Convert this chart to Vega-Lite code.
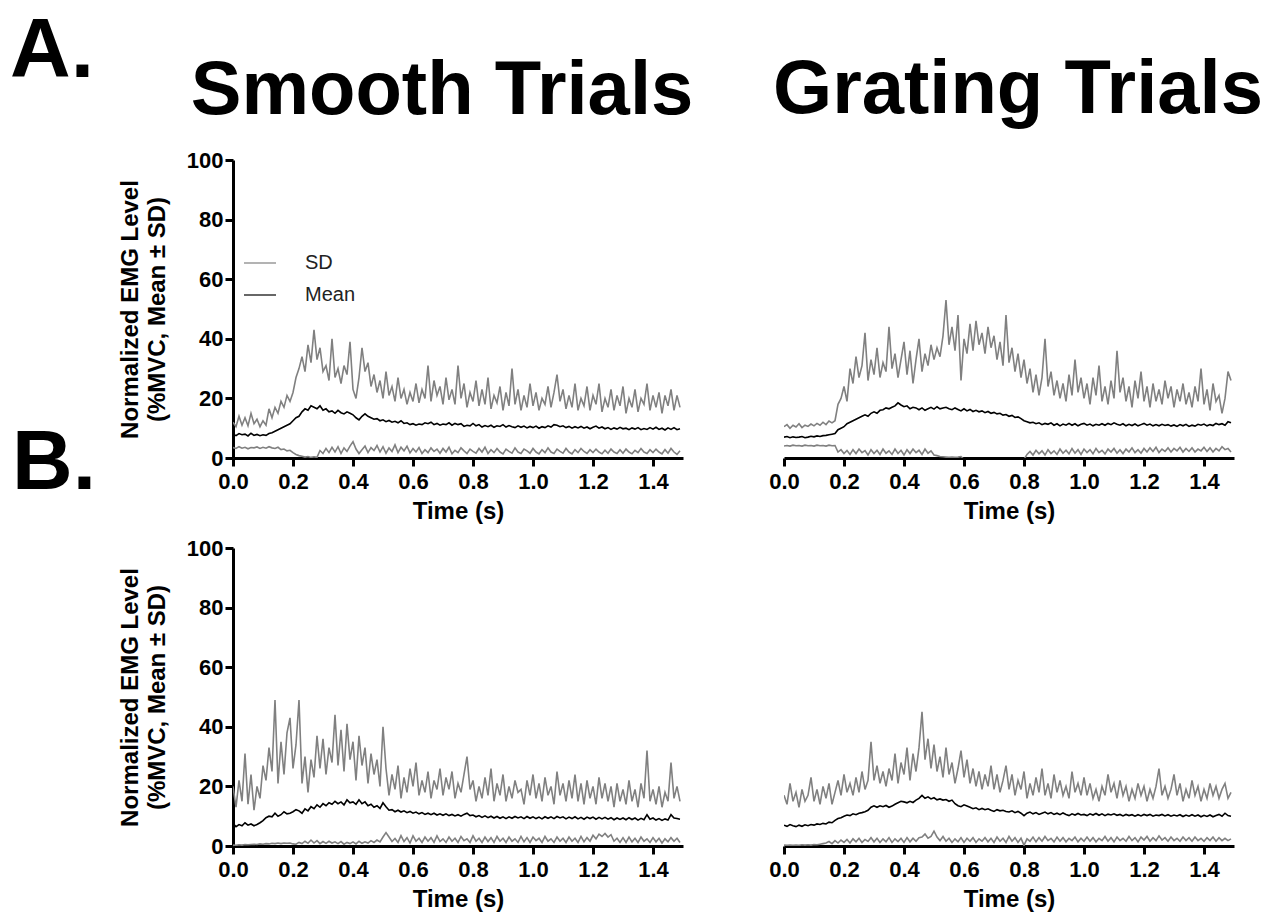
{
  "$schema": "https://vega.github.io/schema/vega-lite/v6.json",
  "padding": {"left": 10, "top": 10, "right": 5, "bottom": 5},
  "background": "white",
  "title": {"text": "A.", "anchor": "start", "frame": "group", "fontSize": 84, "fontWeight": "bold", "dx": -223, "dy": 43, "offset": 0},
  "columns": 2,
  "spacing": {"column": 101, "row": 90},
  "bounds": "flush",
  "resolve": {"scale": {"color": "independent"}, "legend": {"color": "independent"}},
  "config": {
    "font": "Liberation Sans",
    "view": {"stroke": null},
    "axis": {"domainColor": "black", "domainWidth": 3, "tickColor": "black", "tickWidth": 3, "tickSize": 8, "labelFont": "Liberation Sans", "labelFontWeight": "bold", "labelFontSize": 22, "labelColor": "black", "titleFont": "Liberation Sans", "titleFontSize": 24, "titleFontWeight": "bold", "titleColor": "black", "grid": false},
    "title": {"fontSize": 76, "fontWeight": "bold", "color": "black", "font": "Liberation Sans"}
  },
  "datasets": {
    "tl": [
{"t":0.00,"u":12,"m":8,"l":3.5},{"t":0.01,"u":10.5,"m":7.5,"l":3.2},{"t":0.02,"u":14,"m":8.2,"l":3.8},{"t":0.03,"u":11,"m":7.8,"l":3.3},{"t":0.04,"u":13.5,"m":8,"l":3.6},{"t":0.05,"u":10.8,"m":7.4,"l":3.1},{"t":0.06,"u":15,"m":8.3,"l":3.5},{"t":0.07,"u":11.5,"m":7.6,"l":3.4},{"t":0.08,"u":13,"m":7.9,"l":3.7},{"t":0.09,"u":10.5,"m":7.5,"l":3.2},
{"t":0.10,"u":12.5,"m":7.8,"l":3.6},{"t":0.11,"u":11,"m":7.6,"l":3.3},{"t":0.12,"u":16.5,"m":8.2,"l":3.8},{"t":0.13,"u":13.5,"m":8.5,"l":3.4},{"t":0.14,"u":17,"m":9,"l":3.2},{"t":0.15,"u":15,"m":9.5,"l":3.6},{"t":0.16,"u":19,"m":10,"l":2.8},{"t":0.17,"u":17,"m":10.5,"l":3},{"t":0.18,"u":21,"m":11,"l":2.4},{"t":0.19,"u":19,"m":11.5,"l":2.6},
{"t":0.20,"u":22,"m":12.5,"l":1.8},{"t":0.21,"u":27,"m":13.5,"l":1.2},{"t":0.22,"u":30,"m":14,"l":0.8},{"t":0.23,"u":34,"m":15.5,"l":0.6},{"t":0.24,"u":29,"m":16.5,"l":0.3},{"t":0.25,"u":38,"m":16,"l":0.5},{"t":0.26,"u":32,"m":17.5,"l":0.2},{"t":0.27,"u":43,"m":17,"l":0.4},{"t":0.28,"u":33,"m":16.5,"l":0.2},{"t":0.29,"u":37,"m":17.5,"l":2.5},
{"t":0.30,"u":29,"m":16,"l":1.5},{"t":0.31,"u":31,"m":16.5,"l":3.2},{"t":0.32,"u":26,"m":15.5,"l":1.8},{"t":0.33,"u":40,"m":15.8,"l":3.6},{"t":0.34,"u":27,"m":15,"l":2},{"t":0.35,"u":30,"m":16,"l":3.8},{"t":0.36,"u":25,"m":15.2,"l":1.5},{"t":0.37,"u":31,"m":14.8,"l":3.4},{"t":0.38,"u":28,"m":15.5,"l":2.2},{"t":0.39,"u":39,"m":15,"l":4},
{"t":0.40,"u":23,"m":14.5,"l":5.5},{"t":0.41,"u":20,"m":13.5,"l":3},{"t":0.42,"u":27,"m":12.8,"l":1.5},{"t":0.43,"u":37,"m":14,"l":2.8},{"t":0.44,"u":29,"m":14.8,"l":4},{"t":0.45,"u":32,"m":14,"l":1.8},{"t":0.46,"u":24,"m":13.5,"l":3.5},{"t":0.47,"u":28,"m":13,"l":2.5},{"t":0.48,"u":22,"m":13.2,"l":4.2},{"t":0.49,"u":26,"m":12.5,"l":2},
{"t":0.50,"u":20,"m":12.8,"l":3.8},{"t":0.51,"u":29,"m":12.2,"l":1.6},{"t":0.52,"u":21,"m":12.6,"l":3.4},{"t":0.53,"u":24,"m":12,"l":2.2},{"t":0.54,"u":19,"m":12.3,"l":4.4},{"t":0.55,"u":27,"m":11.8,"l":1.8},{"t":0.56,"u":20,"m":12.5,"l":3.6},{"t":0.57,"u":23,"m":11.6,"l":2.4},{"t":0.58,"u":18,"m":11.8,"l":4},{"t":0.59,"u":22,"m":11.2,"l":1.7},
{"t":0.60,"u":19,"m":11.5,"l":3.2},{"t":0.61,"u":25,"m":11,"l":2},{"t":0.62,"u":18.5,"m":11.4,"l":3.5},{"t":0.63,"u":23,"m":11.2,"l":1.5},{"t":0.64,"u":20,"m":11.8,"l":2.8},{"t":0.65,"u":31,"m":11.5,"l":1.8},{"t":0.66,"u":19,"m":12,"l":3.4},{"t":0.67,"u":26,"m":11.2,"l":2.2},{"t":0.68,"u":21,"m":11.6,"l":3},{"t":0.69,"u":24,"m":11,"l":1.6},
{"t":0.70,"u":18,"m":11.4,"l":3.2},{"t":0.71,"u":27,"m":11.2,"l":2},{"t":0.72,"u":19.5,"m":11.8,"l":3.6},{"t":0.73,"u":23,"m":11,"l":1.4},{"t":0.74,"u":18,"m":11.6,"l":2.6},{"t":0.75,"u":31,"m":11.2,"l":1.8},{"t":0.76,"u":20,"m":11.5,"l":3.4},{"t":0.77,"u":25,"m":10.6,"l":2.4},{"t":0.78,"u":17,"m":11,"l":1.5},{"t":0.79,"u":22,"m":10.8,"l":3},
{"t":0.80,"u":19,"m":11.6,"l":2.2},{"t":0.81,"u":26,"m":10.8,"l":1.6},{"t":0.82,"u":17.5,"m":11.2,"l":3.2},{"t":0.83,"u":23,"m":10.4,"l":2},{"t":0.84,"u":18,"m":10.9,"l":3.6},{"t":0.85,"u":27,"m":10.5,"l":1.5},{"t":0.86,"u":16.5,"m":11,"l":2.8},{"t":0.87,"u":21,"m":10.3,"l":1.8},{"t":0.88,"u":18.5,"m":10.8,"l":3.2},{"t":0.89,"u":24,"m":10.6,"l":2},
{"t":0.90,"u":16,"m":11.2,"l":1.4},{"t":0.91,"u":22,"m":10.4,"l":3},{"t":0.92,"u":17.5,"m":10.9,"l":2.2},{"t":0.93,"u":30,"m":10.5,"l":1.6},{"t":0.94,"u":18,"m":10.2,"l":3.4},{"t":0.95,"u":23,"m":10.8,"l":2},{"t":0.96,"u":16,"m":10.3,"l":1.5},{"t":0.97,"u":21,"m":10.7,"l":3},{"t":0.98,"u":17,"m":10.1,"l":2.4},{"t":0.99,"u":25,"m":10.6,"l":1.6},
{"t":1.00,"u":17.5,"m":10.2,"l":3.2},{"t":1.01,"u":22,"m":10.7,"l":2},{"t":1.02,"u":16,"m":10,"l":1.4},{"t":1.03,"u":20,"m":10.5,"l":2.8},{"t":1.04,"u":18,"m":10.2,"l":1.8},{"t":1.05,"u":24,"m":10.8,"l":3.4},{"t":1.06,"u":17,"m":10.4,"l":2},{"t":1.07,"u":22,"m":11.2,"l":1.5},{"t":1.08,"u":28,"m":11,"l":3},{"t":1.09,"u":19,"m":10.5,"l":2.2},
{"t":1.10,"u":23,"m":10.8,"l":1.6},{"t":1.11,"u":16.5,"m":10.2,"l":3.2},{"t":1.12,"u":21,"m":10.6,"l":2},{"t":1.13,"u":17,"m":10,"l":1.4},{"t":1.14,"u":25,"m":10.5,"l":2.8},{"t":1.15,"u":16,"m":10.1,"l":1.8},{"t":1.16,"u":20,"m":10.6,"l":3.2},{"t":1.17,"u":17.5,"m":10,"l":2.2},{"t":1.18,"u":24,"m":10.4,"l":1.5},{"t":1.19,"u":16,"m":9.8,"l":2.8},
{"t":1.20,"u":21,"m":10.3,"l":1.8},{"t":1.21,"u":18,"m":10.7,"l":3},{"t":1.22,"u":25,"m":10,"l":2},{"t":1.23,"u":15.5,"m":10.4,"l":1.4},{"t":1.24,"u":20,"m":9.8,"l":2.6},{"t":1.25,"u":17,"m":10.2,"l":1.6},{"t":1.26,"u":23,"m":9.6,"l":3},{"t":1.27,"u":16,"m":10.1,"l":2},{"t":1.28,"u":21,"m":9.7,"l":1.5},{"t":1.29,"u":17.5,"m":10.3,"l":2.8},
{"t":1.30,"u":24,"m":9.8,"l":1.6},{"t":1.31,"u":15,"m":10,"l":3},{"t":1.32,"u":20,"m":9.5,"l":2},{"t":1.33,"u":17,"m":10.1,"l":1.4},{"t":1.34,"u":23,"m":9.7,"l":2.6},{"t":1.35,"u":15.5,"m":10.2,"l":1.8},{"t":1.36,"u":20,"m":9.5,"l":3.2},{"t":1.37,"u":18,"m":9.9,"l":2},{"t":1.38,"u":25,"m":9.6,"l":1.5},{"t":1.39,"u":16,"m":10.2,"l":2.8},
{"t":1.40,"u":21,"m":9.7,"l":1.8},{"t":1.41,"u":17,"m":10.3,"l":3},{"t":1.42,"u":22,"m":9.6,"l":2},{"t":1.43,"u":15,"m":10,"l":1.4},{"t":1.44,"u":21,"m":9.4,"l":2.8},{"t":1.45,"u":17.5,"m":10.1,"l":1.6},{"t":1.46,"u":23,"m":9.6,"l":3.2},{"t":1.47,"u":16,"m":10.2,"l":2},{"t":1.48,"u":21,"m":9.5,"l":1.2},{"t":1.49,"u":17,"m":9.8,"l":2.4}
    ],
    "tr": [
{"t":0.00,"u":10.5,"m":7,"l":4},{"t":0.01,"u":11.2,"m":7.2,"l":4.2},{"t":0.02,"u":10,"m":6.8,"l":4},{"t":0.03,"u":11,"m":7.1,"l":4.3},{"t":0.04,"u":10.4,"m":6.9,"l":4.1},{"t":0.05,"u":11.5,"m":7,"l":4.2},{"t":0.06,"u":10.2,"m":7.2,"l":4},{"t":0.07,"u":11,"m":6.8,"l":4.3},{"t":0.08,"u":10.6,"m":7,"l":4.1},{"t":0.09,"u":11.4,"m":7.3,"l":4.2},
{"t":0.10,"u":10.8,"m":7.1,"l":4},{"t":0.11,"u":11.6,"m":7.4,"l":4.3},{"t":0.12,"u":11,"m":7.2,"l":4.1},{"t":0.13,"u":12,"m":7.5,"l":4.2},{"t":0.14,"u":11.2,"m":7.6,"l":4},{"t":0.15,"u":12.4,"m":7.8,"l":4.3},{"t":0.16,"u":11.8,"m":8,"l":4.1},{"t":0.17,"u":12.5,"m":8.2,"l":4.2},{"t":0.18,"u":18,"m":9.5,"l":2},{"t":0.19,"u":20,"m":10,"l":2.8},
{"t":0.20,"u":24,"m":10.5,"l":1.5},{"t":0.21,"u":19,"m":11.5,"l":2.5},{"t":0.22,"u":30,"m":12,"l":1.2},{"t":0.23,"u":25,"m":12.5,"l":2.8},{"t":0.24,"u":34,"m":13,"l":1.5},{"t":0.25,"u":27,"m":13.5,"l":3},{"t":0.26,"u":31,"m":14,"l":1.8},{"t":0.27,"u":42,"m":14.5,"l":2.5},{"t":0.28,"u":26,"m":14,"l":1},{"t":0.29,"u":33,"m":15,"l":2.8},
{"t":0.30,"u":28,"m":15.5,"l":1.5},{"t":0.31,"u":37,"m":15,"l":2.6},{"t":0.32,"u":27,"m":16,"l":1.2},{"t":0.33,"u":32,"m":16.2,"l":3},{"t":0.34,"u":29,"m":16.8,"l":1.6},{"t":0.35,"u":44,"m":16.5,"l":2.4},{"t":0.36,"u":30,"m":17,"l":1.2},{"t":0.37,"u":35,"m":17.5,"l":3},{"t":0.38,"u":27,"m":18.5,"l":1.5},{"t":0.39,"u":33,"m":17.8,"l":2.6},
{"t":0.40,"u":39,"m":17.2,"l":1},{"t":0.41,"u":28,"m":17.5,"l":2.8},{"t":0.42,"u":36,"m":16.5,"l":1.5},{"t":0.43,"u":25,"m":17,"l":3},{"t":0.44,"u":33,"m":16.8,"l":1.8},{"t":0.45,"u":40,"m":16.2,"l":2.6},{"t":0.46,"u":29,"m":16.8,"l":1.2},{"t":0.47,"u":35,"m":16,"l":3},{"t":0.48,"u":31,"m":16.5,"l":1.6},{"t":0.49,"u":38,"m":17,"l":2.4},
{"t":0.50,"u":33,"m":16.4,"l":1},{"t":0.51,"u":37,"m":17.2,"l":0.8},{"t":0.52,"u":34,"m":16.5,"l":0.5},{"t":0.53,"u":41,"m":16.8,"l":0.4},{"t":0.54,"u":53,"m":17,"l":0.3},{"t":0.55,"u":38,"m":16.5,"l":0.2},{"t":0.56,"u":44,"m":16.2,"l":0.3},{"t":0.57,"u":36,"m":16.8,"l":0.2},{"t":0.58,"u":48,"m":16.3,"l":0.3},{"t":0.59,"u":26,"m":15.8,"l":0.5},
{"t":0.60,"u":40,"m":16.5,"l":-0.5},{"t":0.61,"u":35,"m":15.8,"l":-1},{"t":0.62,"u":45,"m":16.3,"l":-1},{"t":0.63,"u":36,"m":15.6,"l":-1},{"t":0.64,"u":46,"m":16,"l":-1},{"t":0.65,"u":38,"m":15.5,"l":-1},{"t":0.66,"u":42,"m":15.8,"l":-1},{"t":0.67,"u":35,"m":15.2,"l":-1},{"t":0.68,"u":44,"m":15.6,"l":-1},{"t":0.69,"u":37,"m":15,"l":-1},
{"t":0.70,"u":41,"m":15.3,"l":-1},{"t":0.71,"u":33,"m":14.8,"l":-1},{"t":0.72,"u":39,"m":15,"l":-1},{"t":0.73,"u":31,"m":14.4,"l":-1},{"t":0.74,"u":48,"m":14.6,"l":-1},{"t":0.75,"u":32,"m":14,"l":-1},{"t":0.76,"u":37,"m":14.3,"l":-1},{"t":0.77,"u":29,"m":13.6,"l":-1},{"t":0.78,"u":35,"m":13.8,"l":-1},{"t":0.79,"u":27,"m":13.2,"l":-1},
{"t":0.80,"u":33,"m":12.5,"l":-0.5},{"t":0.81,"u":25,"m":12.2,"l":1.2},{"t":0.82,"u":30,"m":11.8,"l":2.2},{"t":0.83,"u":22,"m":12,"l":1},{"t":0.84,"u":28,"m":11.5,"l":2.6},{"t":0.85,"u":21,"m":11.8,"l":1.4},{"t":0.86,"u":27,"m":11.2,"l":2.4},{"t":0.87,"u":40,"m":11.6,"l":1},{"t":0.88,"u":24,"m":11.3,"l":2.8},{"t":0.89,"u":29,"m":11.8,"l":1.5},
{"t":0.90,"u":21,"m":11,"l":2.4},{"t":0.91,"u":26,"m":11.5,"l":1.2},{"t":0.92,"u":20,"m":10.8,"l":3},{"t":0.93,"u":25,"m":11.4,"l":1.6},{"t":0.94,"u":19,"m":11,"l":2.6},{"t":0.95,"u":28,"m":11.6,"l":1.4},{"t":0.96,"u":21,"m":11,"l":3.2},{"t":0.97,"u":33,"m":11.5,"l":1.6},{"t":0.98,"u":22,"m":10.8,"l":2.8},{"t":0.99,"u":27,"m":11.3,"l":1.2},
{"t":1.00,"u":20,"m":11.6,"l":3},{"t":1.01,"u":25,"m":11,"l":1.8},{"t":1.02,"u":18,"m":11.4,"l":2.8},{"t":1.03,"u":27,"m":10.8,"l":1.4},{"t":1.04,"u":21,"m":11.3,"l":3.2},{"t":1.05,"u":31,"m":11,"l":1.8},{"t":1.06,"u":19,"m":11.5,"l":2.6},{"t":1.07,"u":24,"m":11,"l":1.4},{"t":1.08,"u":18,"m":11.6,"l":3},{"t":1.09,"u":26,"m":11.2,"l":2},
{"t":1.10,"u":20,"m":11.8,"l":3.2},{"t":1.11,"u":36,"m":11.3,"l":1.6},{"t":1.12,"u":22,"m":11,"l":2.8},{"t":1.13,"u":27,"m":11.5,"l":1.5},{"t":1.14,"u":19,"m":10.8,"l":3},{"t":1.15,"u":24,"m":11.3,"l":2},{"t":1.16,"u":17,"m":10.9,"l":3.4},{"t":1.17,"u":26,"m":11.4,"l":1.8},{"t":1.18,"u":20,"m":10.8,"l":2.8},{"t":1.19,"u":29,"m":11.2,"l":1.6},
{"t":1.20,"u":19,"m":11.6,"l":3.2},{"t":1.21,"u":24,"m":11,"l":2},{"t":1.22,"u":17,"m":11.4,"l":3.4},{"t":1.23,"u":25,"m":10.8,"l":2.2},{"t":1.24,"u":19,"m":11.2,"l":3.6},{"t":1.25,"u":23,"m":10.8,"l":1.8},{"t":1.26,"u":18,"m":11.3,"l":3},{"t":1.27,"u":26,"m":10.9,"l":2.2},{"t":1.28,"u":20,"m":11.2,"l":3.4},{"t":1.29,"u":24,"m":10.7,"l":2},
{"t":1.30,"u":17,"m":11.1,"l":3.2},{"t":1.31,"u":23,"m":10.6,"l":2.4},{"t":1.32,"u":19,"m":11.2,"l":3.6},{"t":1.33,"u":25,"m":10.8,"l":2},{"t":1.34,"u":18,"m":11.3,"l":3.2},{"t":1.35,"u":22,"m":10.6,"l":2.2},{"t":1.36,"u":17,"m":11,"l":3.4},{"t":1.37,"u":24,"m":10.7,"l":2},{"t":1.38,"u":19,"m":11.3,"l":3},{"t":1.39,"u":30,"m":11,"l":2.4},
{"t":1.40,"u":18,"m":11.4,"l":3.6},{"t":1.41,"u":23,"m":10.8,"l":2.2},{"t":1.42,"u":16,"m":11.2,"l":3.4},{"t":1.43,"u":25,"m":10.9,"l":2},{"t":1.44,"u":19,"m":11.6,"l":3.2},{"t":1.45,"u":21,"m":11.2,"l":2.4},{"t":1.46,"u":15,"m":11.5,"l":3.8},{"t":1.47,"u":20,"m":11,"l":2.8},{"t":1.48,"u":29,"m":12.2,"l":3.2},{"t":1.49,"u":26,"m":11.8,"l":2}
    ],
    "bl": [
{"t":0.00,"u":20,"m":7.5,"l":0.3},{"t":0.01,"u":13,"m":6.5,"l":0.2},{"t":0.02,"u":22,"m":7.2,"l":0.4},{"t":0.03,"u":15,"m":6.8,"l":0.3},{"t":0.04,"u":31,"m":7.8,"l":0.5},{"t":0.05,"u":14,"m":7,"l":0.4},{"t":0.06,"u":24,"m":7.4,"l":0.5},{"t":0.07,"u":12,"m":6.8,"l":0.6},{"t":0.08,"u":20,"m":7.2,"l":0.5},{"t":0.09,"u":16,"m":7.8,"l":0.7},
{"t":0.10,"u":27,"m":8.5,"l":0.6},{"t":0.11,"u":22,"m":9.5,"l":0.8},{"t":0.12,"u":33,"m":10,"l":0.7},{"t":0.13,"u":25,"m":9.8,"l":0.9},{"t":0.14,"u":49,"m":11,"l":0.8},{"t":0.15,"u":21,"m":10,"l":1},{"t":0.16,"u":35,"m":10.5,"l":0.8},{"t":0.17,"u":24,"m":11.5,"l":1},{"t":0.18,"u":38,"m":10.8,"l":0.9},{"t":0.19,"u":43,"m":11,"l":1},
{"t":0.20,"u":26,"m":11.5,"l":0.7},{"t":0.21,"u":34,"m":12.2,"l":0.6},{"t":0.22,"u":49,"m":11.8,"l":1.2},{"t":0.23,"u":21,"m":11,"l":0.8},{"t":0.24,"u":30,"m":12.5,"l":1.6},{"t":0.25,"u":18,"m":11.8,"l":0.9},{"t":0.26,"u":29,"m":13.2,"l":2},{"t":0.27,"u":23,"m":12.5,"l":1},{"t":0.28,"u":37,"m":13.8,"l":1.8},{"t":0.29,"u":26,"m":13,"l":0.8},
{"t":0.30,"u":36,"m":14.2,"l":1.5},{"t":0.31,"u":24,"m":13.5,"l":0.9},{"t":0.32,"u":33,"m":14.5,"l":1.6},{"t":0.33,"u":28,"m":14,"l":1},{"t":0.34,"u":44,"m":15,"l":1.4},{"t":0.35,"u":27,"m":14.2,"l":0.8},{"t":0.36,"u":39,"m":14.8,"l":1.5},{"t":0.37,"u":25,"m":13.8,"l":0.6},{"t":0.38,"u":41,"m":15.5,"l":1.2},{"t":0.39,"u":29,"m":14.5,"l":0.8},
{"t":0.40,"u":35,"m":14.8,"l":1.4},{"t":0.41,"u":22,"m":14,"l":0.7},{"t":0.42,"u":37,"m":15.5,"l":1.6},{"t":0.43,"u":27,"m":14.2,"l":0.9},{"t":0.44,"u":33,"m":14.8,"l":1.4},{"t":0.45,"u":21,"m":13.5,"l":1},{"t":0.46,"u":31,"m":14,"l":1.8},{"t":0.47,"u":24,"m":13,"l":1.2},{"t":0.48,"u":29,"m":13.5,"l":2},{"t":0.49,"u":20,"m":12.6,"l":1.4},
{"t":0.50,"u":40,"m":14.5,"l":3},{"t":0.51,"u":26,"m":13.2,"l":4.5},{"t":0.52,"u":17,"m":12,"l":3},{"t":0.53,"u":24,"m":12.2,"l":1.5},{"t":0.54,"u":19,"m":11.5,"l":2.5},{"t":0.55,"u":27,"m":12,"l":1.2},{"t":0.56,"u":16,"m":11.4,"l":3.5},{"t":0.57,"u":23,"m":11.8,"l":1.5},{"t":0.58,"u":18,"m":11.2,"l":2.8},{"t":0.59,"u":26,"m":11.6,"l":1},
{"t":0.60,"u":20,"m":11,"l":3.4},{"t":0.61,"u":28,"m":11.4,"l":1.6},{"t":0.62,"u":17,"m":10.8,"l":2.6},{"t":0.63,"u":22,"m":11.2,"l":1.2},{"t":0.64,"u":18,"m":10.6,"l":3},{"t":0.65,"u":25,"m":11,"l":1.6},{"t":0.66,"u":16,"m":10.5,"l":2.8},{"t":0.67,"u":22,"m":11,"l":1.2},{"t":0.68,"u":19,"m":10.4,"l":3.4},{"t":0.69,"u":26,"m":10.8,"l":1.5},
{"t":0.70,"u":17,"m":10.3,"l":2.4},{"t":0.71,"u":23,"m":10.8,"l":1.2},{"t":0.72,"u":19,"m":10.2,"l":3},{"t":0.73,"u":25,"m":10.6,"l":1.6},{"t":0.74,"u":16,"m":10.1,"l":2.6},{"t":0.75,"u":21,"m":10.5,"l":1.2},{"t":0.76,"u":18,"m":10,"l":3.2},{"t":0.77,"u":24,"m":10.6,"l":1.8},{"t":0.78,"u":30,"m":11,"l":2.4},{"t":0.79,"u":19,"m":10.2,"l":1.2},
{"t":0.80,"u":22,"m":10.4,"l":3.4},{"t":0.81,"u":15,"m":9.8,"l":1.6},{"t":0.82,"u":20,"m":10.2,"l":2.6},{"t":0.83,"u":16,"m":9.6,"l":1.2},{"t":0.84,"u":23,"m":10.1,"l":3},{"t":0.85,"u":17,"m":9.5,"l":1.5},{"t":0.86,"u":26,"m":10,"l":2.8},{"t":0.87,"u":15,"m":9.4,"l":1.2},{"t":0.88,"u":21,"m":9.9,"l":3.2},{"t":0.89,"u":17,"m":9.3,"l":1.6},
{"t":0.90,"u":24,"m":9.8,"l":2.6},{"t":0.91,"u":15,"m":9.2,"l":1.2},{"t":0.92,"u":20,"m":9.8,"l":3},{"t":0.93,"u":16,"m":9.3,"l":1.6},{"t":0.94,"u":22,"m":9.9,"l":2.4},{"t":0.95,"u":18,"m":9.4,"l":1.2},{"t":0.96,"u":19,"m":9.8,"l":3.2},{"t":0.97,"u":14,"m":9.2,"l":1.4},{"t":0.98,"u":22,"m":9.9,"l":2.8},{"t":0.99,"u":17,"m":9.3,"l":1.2},
{"t":1.00,"u":24,"m":9.8,"l":3},{"t":1.01,"u":16,"m":9.2,"l":1.8},{"t":1.02,"u":21,"m":9.7,"l":2.6},{"t":1.03,"u":15,"m":9.1,"l":1.2},{"t":1.04,"u":23,"m":9.8,"l":3.2},{"t":1.05,"u":17,"m":9.3,"l":1.6},{"t":1.06,"u":20,"m":9.8,"l":2.4},{"t":1.07,"u":14,"m":9.2,"l":1.2},{"t":1.08,"u":25,"m":9.9,"l":3},{"t":1.09,"u":17,"m":9.4,"l":1.6},
{"t":1.10,"u":21,"m":9.8,"l":2.6},{"t":1.11,"u":15,"m":9.1,"l":1.2},{"t":1.12,"u":22,"m":9.7,"l":3},{"t":1.13,"u":16,"m":9.2,"l":1.6},{"t":1.14,"u":24,"m":9.8,"l":2.6},{"t":1.15,"u":15,"m":9.1,"l":1.2},{"t":1.16,"u":21,"m":9.6,"l":3.2},{"t":1.17,"u":14,"m":9,"l":1.4},{"t":1.18,"u":22,"m":9.7,"l":2.8},{"t":1.19,"u":16,"m":9.2,"l":1.6},
{"t":1.20,"u":20,"m":9.7,"l":3.6},{"t":1.21,"u":14,"m":9,"l":2.4},{"t":1.22,"u":23,"m":9.6,"l":4},{"t":1.23,"u":16,"m":9.1,"l":3.2},{"t":1.24,"u":21,"m":9.6,"l":4.2},{"t":1.25,"u":15,"m":9,"l":3},{"t":1.26,"u":20,"m":9.5,"l":3.8},{"t":1.27,"u":13,"m":8.8,"l":1.6},{"t":1.28,"u":21,"m":9.4,"l":2.6},{"t":1.29,"u":15,"m":8.9,"l":1.2},
{"t":1.30,"u":19,"m":9.4,"l":2.8},{"t":1.31,"u":14,"m":8.8,"l":1.2},{"t":1.32,"u":22,"m":9.5,"l":3},{"t":1.33,"u":15,"m":8.9,"l":1.4},{"t":1.34,"u":19,"m":9.4,"l":2.6},{"t":1.35,"u":13,"m":8.7,"l":1.2},{"t":1.36,"u":21,"m":9.3,"l":3},{"t":1.37,"u":16,"m":8.8,"l":1.6},{"t":1.38,"u":32,"m":10.5,"l":2.4},{"t":1.39,"u":15,"m":9,"l":1.2},
{"t":1.40,"u":19,"m":9.4,"l":2.8},{"t":1.41,"u":14,"m":8.7,"l":1.4},{"t":1.42,"u":20,"m":9.2,"l":2.6},{"t":1.43,"u":13,"m":8.6,"l":1},{"t":1.44,"u":18,"m":9.1,"l":2.4},{"t":1.45,"u":15,"m":8.7,"l":1.4},{"t":1.46,"u":28,"m":10.5,"l":2.8},{"t":1.47,"u":16,"m":9.4,"l":1.6},{"t":1.48,"u":20,"m":9.2,"l":2.6},{"t":1.49,"u":15,"m":9,"l":1.2}
    ],
    "br": [
{"t":0.00,"u":17,"m":7,"l":0.3},{"t":0.01,"u":14,"m":6.6,"l":0.2},{"t":0.02,"u":21,"m":7.2,"l":0.3},{"t":0.03,"u":15,"m":6.8,"l":0.2},{"t":0.04,"u":18,"m":6.5,"l":0.3},{"t":0.05,"u":13,"m":7,"l":0.2},{"t":0.06,"u":19,"m":6.6,"l":0.4},{"t":0.07,"u":15,"m":7.1,"l":0.3},{"t":0.08,"u":17,"m":6.8,"l":0.4},{"t":0.09,"u":23,"m":7.2,"l":0.3},
{"t":0.10,"u":15,"m":7,"l":0.5},{"t":0.11,"u":19,"m":7.4,"l":0.4},{"t":0.12,"u":14,"m":7.2,"l":0.6},{"t":0.13,"u":20,"m":7.6,"l":0.8},{"t":0.14,"u":16,"m":7.4,"l":1},{"t":0.15,"u":21,"m":8,"l":1.5},{"t":0.16,"u":14,"m":7.8,"l":0.8},{"t":0.17,"u":18,"m":8.6,"l":1.8},{"t":0.18,"u":22,"m":9.2,"l":1},{"t":0.19,"u":17,"m":9.5,"l":2},
{"t":0.20,"u":24,"m":10,"l":1.2},{"t":0.21,"u":18,"m":10.4,"l":2.2},{"t":0.22,"u":21,"m":10.2,"l":1},{"t":0.23,"u":17,"m":10.8,"l":2.4},{"t":0.24,"u":23,"m":10.5,"l":1.4},{"t":0.25,"u":18,"m":11,"l":2.6},{"t":0.26,"u":25,"m":11.2,"l":1.2},{"t":0.27,"u":19,"m":11.5,"l":2.2},{"t":0.28,"u":22,"m":12,"l":1.5},{"t":0.29,"u":35,"m":13,"l":2.8},
{"t":0.30,"u":22,"m":13.5,"l":1.4},{"t":0.31,"u":27,"m":13,"l":2.6},{"t":0.32,"u":21,"m":13.5,"l":1.2},{"t":0.33,"u":25,"m":13.2,"l":2.4},{"t":0.34,"u":20,"m":13.6,"l":1.4},{"t":0.35,"u":26,"m":13,"l":2.8},{"t":0.36,"u":22,"m":13.4,"l":1.2},{"t":0.37,"u":31,"m":14,"l":2.4},{"t":0.38,"u":21,"m":14.5,"l":1.5},{"t":0.39,"u":28,"m":15,"l":2.6},
{"t":0.40,"u":24,"m":14.8,"l":1.2},{"t":0.41,"u":33,"m":14.5,"l":2.8},{"t":0.42,"u":22,"m":15,"l":1.4},{"t":0.43,"u":31,"m":14.6,"l":2.6},{"t":0.44,"u":25,"m":15.4,"l":1.6},{"t":0.45,"u":33,"m":16,"l":2.8},{"t":0.46,"u":45,"m":17,"l":3},{"t":0.47,"u":29,"m":16,"l":4},{"t":0.48,"u":36,"m":16.5,"l":2.6},{"t":0.49,"u":26,"m":15.8,"l":3.2},
{"t":0.50,"u":34,"m":16.2,"l":5},{"t":0.51,"u":25,"m":15.5,"l":3},{"t":0.52,"u":30,"m":15.8,"l":1.8},{"t":0.53,"u":23,"m":15.4,"l":3.2},{"t":0.54,"u":33,"m":15.6,"l":1.6},{"t":0.55,"u":24,"m":15,"l":2.6},{"t":0.56,"u":28,"m":15.4,"l":1.2},{"t":0.57,"u":21,"m":14.2,"l":2.4},{"t":0.58,"u":26,"m":13.5,"l":1.4},{"t":0.59,"u":32,"m":13.2,"l":2.8},
{"t":0.60,"u":23,"m":13.8,"l":1.2},{"t":0.61,"u":29,"m":13.4,"l":2.6},{"t":0.62,"u":21,"m":13,"l":1.6},{"t":0.63,"u":26,"m":12.5,"l":2.8},{"t":0.64,"u":20,"m":12.8,"l":1.2},{"t":0.65,"u":25,"m":12.2,"l":2.4},{"t":0.66,"u":19,"m":12.6,"l":1.6},{"t":0.67,"u":24,"m":12.2,"l":2.8},{"t":0.68,"u":20,"m":12.5,"l":1.4},{"t":0.69,"u":27,"m":12,"l":2.6},
{"t":0.70,"u":19,"m":11.6,"l":1.2},{"t":0.71,"u":24,"m":12.2,"l":3},{"t":0.72,"u":18,"m":11.8,"l":1.6},{"t":0.73,"u":22,"m":12,"l":2.6},{"t":0.74,"u":27,"m":11.6,"l":1.2},{"t":0.75,"u":19,"m":11.4,"l":3.2},{"t":0.76,"u":24,"m":11.8,"l":1.6},{"t":0.77,"u":17,"m":11.2,"l":2.8},{"t":0.78,"u":22,"m":11.6,"l":1.2},{"t":0.79,"u":19,"m":11,"l":2.6},
{"t":0.80,"u":25,"m":10.2,"l":0.2},{"t":0.81,"u":16,"m":11,"l":2.4},{"t":0.82,"u":21,"m":11.4,"l":1.6},{"t":0.83,"u":17,"m":10.8,"l":3},{"t":0.84,"u":23,"m":11.2,"l":1.4},{"t":0.85,"u":18,"m":10.6,"l":2.8},{"t":0.86,"u":26,"m":11,"l":1.6},{"t":0.87,"u":17,"m":11.4,"l":3.2},{"t":0.88,"u":21,"m":10.8,"l":1.8},{"t":0.89,"u":16,"m":11.2,"l":2.6},
{"t":0.90,"u":24,"m":10.6,"l":1.4},{"t":0.91,"u":18,"m":11,"l":3},{"t":0.92,"u":22,"m":10.5,"l":1.6},{"t":0.93,"u":17,"m":11.1,"l":2.8},{"t":0.94,"u":20,"m":10.6,"l":1.4},{"t":0.95,"u":16,"m":10.2,"l":2.6},{"t":0.96,"u":25,"m":10.8,"l":1.8},{"t":0.97,"u":18,"m":10.4,"l":3},{"t":0.98,"u":21,"m":10.9,"l":1.4},{"t":0.99,"u":17,"m":10.4,"l":2.6},
{"t":1.00,"u":23,"m":10.6,"l":1.6},{"t":1.01,"u":17,"m":10.2,"l":3},{"t":1.02,"u":21,"m":10.8,"l":1.6},{"t":1.03,"u":16,"m":10.4,"l":2.8},{"t":1.04,"u":19,"m":10.9,"l":1.4},{"t":1.05,"u":15,"m":10.3,"l":2.6},{"t":1.06,"u":20,"m":10.8,"l":1.8},{"t":1.07,"u":17,"m":10.2,"l":3.2},{"t":1.08,"u":24,"m":10.7,"l":1.6},{"t":1.09,"u":18,"m":10.4,"l":2.8},
{"t":1.10,"u":21,"m":10.8,"l":1.4},{"t":1.11,"u":16,"m":10.3,"l":3},{"t":1.12,"u":22,"m":10.6,"l":1.8},{"t":1.13,"u":17,"m":10.1,"l":2.6},{"t":1.14,"u":20,"m":10.6,"l":1.6},{"t":1.15,"u":15,"m":10.2,"l":3.2},{"t":1.16,"u":19,"m":10.5,"l":1.8},{"t":1.17,"u":16,"m":10,"l":2.8},{"t":1.18,"u":21,"m":10.5,"l":1.4},{"t":1.19,"u":17,"m":10.1,"l":3},
{"t":1.20,"u":20,"m":10.6,"l":2},{"t":1.21,"u":15,"m":10.2,"l":3.2},{"t":1.22,"u":19,"m":10.6,"l":1.6},{"t":1.23,"u":16,"m":10,"l":2.8},{"t":1.24,"u":20,"m":10.4,"l":1.8},{"t":1.25,"u":26,"m":10.2,"l":3.4},{"t":1.26,"u":17,"m":10.6,"l":2},{"t":1.27,"u":20,"m":10.1,"l":2.8},{"t":1.28,"u":16,"m":10.5,"l":1.6},{"t":1.29,"u":19,"m":10,"l":3},
{"t":1.30,"u":24,"m":10.4,"l":1.8},{"t":1.31,"u":17,"m":10.1,"l":2.6},{"t":1.32,"u":21,"m":10.5,"l":1.6},{"t":1.33,"u":15,"m":9.9,"l":3},{"t":1.34,"u":19,"m":10.4,"l":1.8},{"t":1.35,"u":16,"m":10,"l":2.8},{"t":1.36,"u":22,"m":10.5,"l":1.6},{"t":1.37,"u":17,"m":10,"l":3},{"t":1.38,"u":20,"m":10.4,"l":1.8},{"t":1.39,"u":15,"m":9.8,"l":2.6},
{"t":1.40,"u":19,"m":10.3,"l":1.6},{"t":1.41,"u":16,"m":9.9,"l":2.8},{"t":1.42,"u":21,"m":10.4,"l":1.8},{"t":1.43,"u":17,"m":9.8,"l":3},{"t":1.44,"u":20,"m":10.2,"l":1.6},{"t":1.45,"u":16,"m":10.6,"l":2.8},{"t":1.46,"u":19,"m":10,"l":1.8},{"t":1.47,"u":21,"m":11,"l":2.6},{"t":1.48,"u":16,"m":10.2,"l":1.8},{"t":1.49,"u":18,"m":10,"l":2.4}
    ]
  },
  "concat": [
    {
      "width": 450, "height": 298,
      "data": {"name": "tl"},
      "title": {"text": "Smooth Trials", "anchor": "middle", "frame": "group", "dx": -16, "offset": 19},
      "encoding": {"x": {"field": "t", "type": "quantitative", "scale": {"domain": [0, 1.5], "nice": false, "zero": false}, "axis": {"values": [0, 0.2, 0.4, 0.6, 0.8, 1.0, 1.2, 1.4], "format": ".1f", "title": "Time (s)", "labelFlush": false, "labelPadding": 5, "titlePadding": 7}}},
      "layer": [
        {"mark": {"type": "line", "clip": true, "strokeWidth": 1.6}, "encoding": {"y": {"field": "u", "type": "quantitative", "scale": {"domain": [0, 100], "nice": false}, "axis": {"values": [0, 20, 40, 60, 80, 100], "title": ["Normalized EMG Level", "(%MVC, Mean ± SD)"], "titleLineHeight": 27, "titlePadding": 17, "labelPadding": 2}}, "color": {"datum": "SD", "type": "nominal", "scale": {"domain": ["SD", "Mean"], "range": ["#808080", "#000000"]}, "legend": {"orient": "none", "legendX": 10, "legendY": 86, "title": null, "symbolType": "stroke", "symbolSize": 1024, "symbolStrokeWidth": 1.2, "labelFontSize": 20, "labelFontWeight": "normal", "labelColor": "#222222", "labelOffset": 28, "rowPadding": 5}}}},
        {"mark": {"type": "line", "clip": true, "strokeWidth": 1.6}, "encoding": {"y": {"field": "l", "type": "quantitative", "scale": {"domain": [0, 100], "nice": false}, "axis": {"values": [0, 20, 40, 60, 80, 100], "title": ["Normalized EMG Level", "(%MVC, Mean ± SD)"], "titleLineHeight": 27, "titlePadding": 17, "labelPadding": 2}}, "color": {"datum": "SD", "type": "nominal", "scale": {"domain": ["SD", "Mean"], "range": ["#808080", "#000000"]}, "legend": {"orient": "none", "legendX": 10, "legendY": 86, "title": null, "symbolType": "stroke", "symbolSize": 1024, "symbolStrokeWidth": 1.2, "labelFontSize": 20, "labelFontWeight": "normal", "labelColor": "#222222", "labelOffset": 28, "rowPadding": 5}}}},
        {"mark": {"type": "line", "clip": true, "strokeWidth": 1.6}, "encoding": {"y": {"field": "m", "type": "quantitative", "scale": {"domain": [0, 100], "nice": false}, "axis": {"values": [0, 20, 40, 60, 80, 100], "title": ["Normalized EMG Level", "(%MVC, Mean ± SD)"], "titleLineHeight": 27, "titlePadding": 17, "labelPadding": 2}}, "color": {"datum": "Mean", "type": "nominal", "scale": {"domain": ["SD", "Mean"], "range": ["#808080", "#000000"]}, "legend": {"orient": "none", "legendX": 10, "legendY": 86, "title": null, "symbolType": "stroke", "symbolSize": 1024, "symbolStrokeWidth": 1.2, "labelFontSize": 20, "labelFontWeight": "normal", "labelColor": "#222222", "labelOffset": 28, "rowPadding": 5}}}}
      ]
    },
    {
      "width": 450, "height": 298,
      "data": {"name": "tr"},
      "title": {"text": "Grating Trials", "anchor": "middle", "frame": "group", "dx": 9, "offset": 31},
      "encoding": {"x": {"field": "t", "type": "quantitative", "scale": {"domain": [0, 1.5], "nice": false, "zero": false}, "axis": {"values": [0, 0.2, 0.4, 0.6, 0.8, 1.0, 1.2, 1.4], "format": ".1f", "title": "Time (s)", "labelFlush": false, "labelPadding": 5, "titlePadding": 7}}},
      "layer": [
        {"mark": {"type": "line", "clip": true, "strokeWidth": 1.6}, "encoding": {"y": {"field": "u", "type": "quantitative", "scale": {"domain": [0, 100], "nice": false}, "axis": null}, "color": {"datum": "SD", "type": "nominal", "scale": {"domain": ["SD", "Mean"], "range": ["#808080", "#000000"]}, "legend": null}}},
        {"mark": {"type": "line", "clip": true, "strokeWidth": 1.6}, "encoding": {"y": {"field": "l", "type": "quantitative", "scale": {"domain": [0, 100], "nice": false}, "axis": null}, "color": {"datum": "SD", "type": "nominal", "scale": {"domain": ["SD", "Mean"], "range": ["#808080", "#000000"]}, "legend": null}}},
        {"mark": {"type": "line", "clip": true, "strokeWidth": 1.6}, "encoding": {"y": {"field": "m", "type": "quantitative", "scale": {"domain": [0, 100], "nice": false}, "axis": null}, "color": {"datum": "Mean", "type": "nominal", "scale": {"domain": ["SD", "Mean"], "range": ["#808080", "#000000"]}, "legend": null}}}
      ]
    },
    {
      "width": 450, "height": 298,
      "data": {"name": "bl"},
      "title": {"text": "B.", "anchor": "start", "frame": "group", "fontSize": 84, "dx": -221, "offset": 30},
      "encoding": {"x": {"field": "t", "type": "quantitative", "scale": {"domain": [0, 1.5], "nice": false, "zero": false}, "axis": {"values": [0, 0.2, 0.4, 0.6, 0.8, 1.0, 1.2, 1.4], "format": ".1f", "title": "Time (s)", "labelFlush": false, "labelPadding": 5, "titlePadding": 7}}},
      "layer": [
        {"mark": {"type": "line", "clip": true, "strokeWidth": 1.6}, "encoding": {"y": {"field": "u", "type": "quantitative", "scale": {"domain": [0, 100], "nice": false}, "axis": {"values": [0, 20, 40, 60, 80, 100], "title": ["Normalized EMG Level", "(%MVC, Mean ± SD)"], "titleLineHeight": 27, "titlePadding": 17, "labelPadding": 2}}, "color": {"datum": "SD", "type": "nominal", "scale": {"domain": ["SD", "Mean"], "range": ["#808080", "#000000"]}, "legend": null}}},
        {"mark": {"type": "line", "clip": true, "strokeWidth": 1.6}, "encoding": {"y": {"field": "l", "type": "quantitative", "scale": {"domain": [0, 100], "nice": false}, "axis": {"values": [0, 20, 40, 60, 80, 100], "title": ["Normalized EMG Level", "(%MVC, Mean ± SD)"], "titleLineHeight": 27, "titlePadding": 17, "labelPadding": 2}}, "color": {"datum": "SD", "type": "nominal", "scale": {"domain": ["SD", "Mean"], "range": ["#808080", "#000000"]}, "legend": null}}},
        {"mark": {"type": "line", "clip": true, "strokeWidth": 1.6}, "encoding": {"y": {"field": "m", "type": "quantitative", "scale": {"domain": [0, 100], "nice": false}, "axis": {"values": [0, 20, 40, 60, 80, 100], "title": ["Normalized EMG Level", "(%MVC, Mean ± SD)"], "titleLineHeight": 27, "titlePadding": 17, "labelPadding": 2}}, "color": {"datum": "Mean", "type": "nominal", "scale": {"domain": ["SD", "Mean"], "range": ["#808080", "#000000"]}, "legend": null}}}
      ]
    },
    {
      "width": 450, "height": 298,
      "data": {"name": "br"},
      "encoding": {"x": {"field": "t", "type": "quantitative", "scale": {"domain": [0, 1.5], "nice": false, "zero": false}, "axis": {"values": [0, 0.2, 0.4, 0.6, 0.8, 1.0, 1.2, 1.4], "format": ".1f", "title": "Time (s)", "labelFlush": false, "labelPadding": 5, "titlePadding": 7}}},
      "layer": [
        {"mark": {"type": "line", "clip": true, "strokeWidth": 1.6}, "encoding": {"y": {"field": "u", "type": "quantitative", "scale": {"domain": [0, 100], "nice": false}, "axis": null}, "color": {"datum": "SD", "type": "nominal", "scale": {"domain": ["SD", "Mean"], "range": ["#808080", "#000000"]}, "legend": null}}},
        {"mark": {"type": "line", "clip": true, "strokeWidth": 1.6}, "encoding": {"y": {"field": "l", "type": "quantitative", "scale": {"domain": [0, 100], "nice": false}, "axis": null}, "color": {"datum": "SD", "type": "nominal", "scale": {"domain": ["SD", "Mean"], "range": ["#808080", "#000000"]}, "legend": null}}},
        {"mark": {"type": "line", "clip": true, "strokeWidth": 1.6}, "encoding": {"y": {"field": "m", "type": "quantitative", "scale": {"domain": [0, 100], "nice": false}, "axis": null}, "color": {"datum": "Mean", "type": "nominal", "scale": {"domain": ["SD", "Mean"], "range": ["#808080", "#000000"]}, "legend": null}}}
      ]
    }
  ]
}
